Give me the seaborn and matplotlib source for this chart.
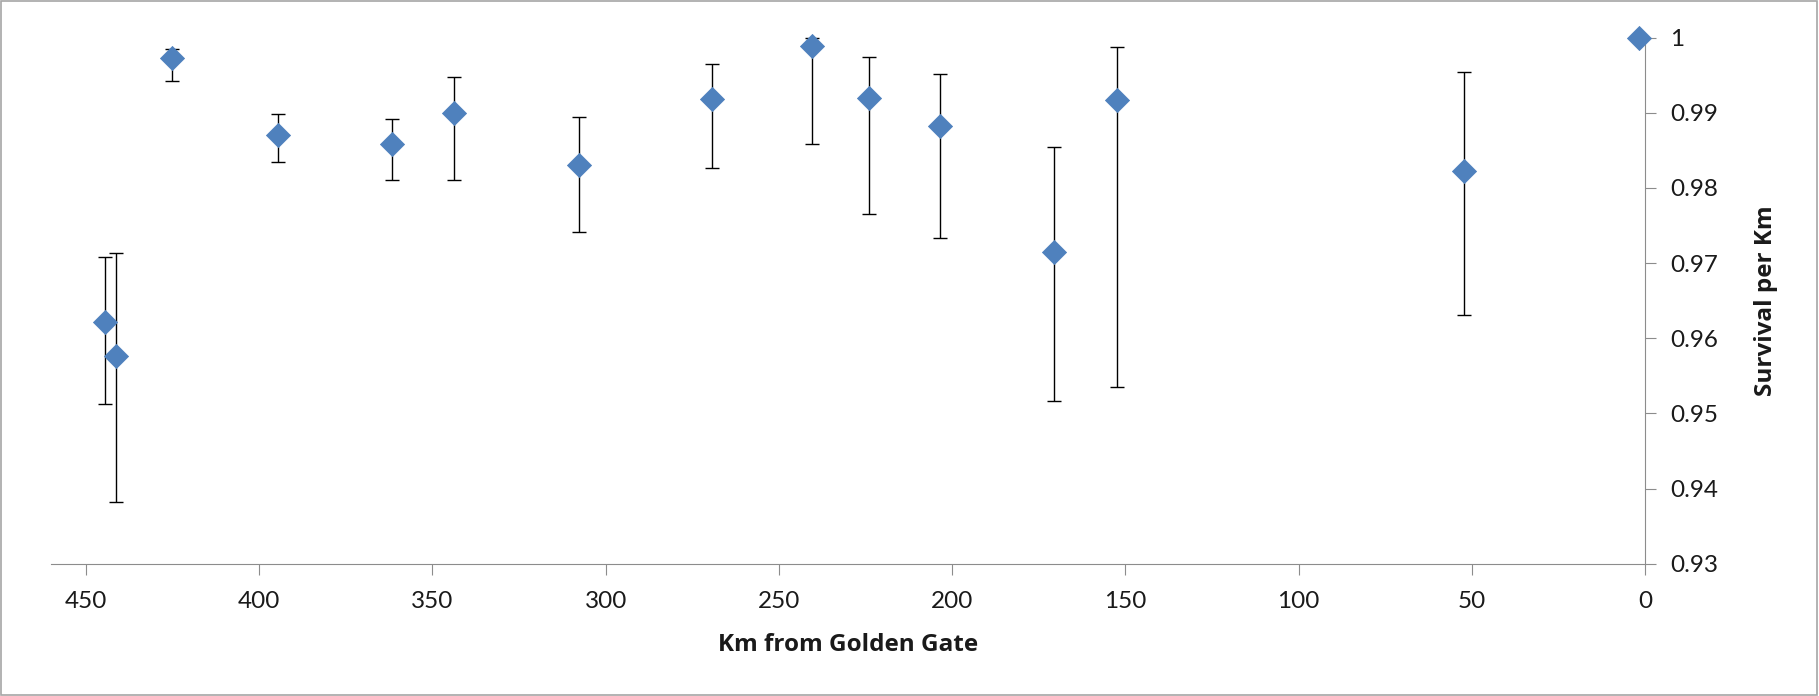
import matplotlib
matplotlib.use('Agg')
import matplotlib.pyplot as plt
from matplotlib.patches import Rectangle
from matplotlib.ticker import FuncFormatter
import seaborn as sns
import pandas as pd
import numpy as np

# Data
km_from_golden_gate = [444.5, 441.4, 425.1, 394.6, 361.6, 343.8, 307.7, 269.3,
                       240.4, 224.1, 203.5, 170.6, 152.3, 52.1, 1.8]
survival_per_km = [0.9622, 0.9577, 0.9973, 0.9871, 0.9858, 0.9900, 0.9831, 0.9918,
                   0.9989, 0.9920, 0.9882, 0.9715, 0.9917, 0.9823, 1.0000]
upper_ci = [0.9708, 0.9713, 0.9985, 0.9899, 0.9892, 0.9948, 0.9894, 0.9965,
            1.0000, 0.9974, 0.9952, 0.9855, 0.9988, 0.9954, 1.0000]
lower_ci = [0.9512, 0.9382, 0.9943, 0.9835, 0.9811, 0.9811, 0.9742, 0.9826,
            0.9859, 0.9766, 0.9733, 0.9517, 0.9535, 0.9631, 1.0000]
x_ticks = [450, 400, 350, 300, 250, 200, 150, 100, 50, 0]
y_ticks = [0.93, 0.94, 0.95, 0.96, 0.97, 0.98, 0.99, 1.00]

df = pd.DataFrame({"km": km_from_golden_gate, "surv": survival_per_km,
                   "hi": upper_ci, "lo": lower_ci})

sns.set_theme(style="white")
plt.rcParams['font.family'] = ['Lato', 'DejaVu Sans']

W, H = 1819, 696
fig = plt.figure(figsize=(W / 100, H / 100), dpi=100)
left, right, top, bottom = 51.3, 1645, 37.7, 563.7
ax = fig.add_axes([left / W, 1 - bottom / H, (right - left) / W, (bottom - top) / H])

ax.errorbar(df["km"], df["surv"],
            yerr=[df["surv"] - df["lo"], df["hi"] - df["surv"]],
            fmt='none', ecolor='black', elinewidth=1.0, capsize=4.8,
            capthick=1.0, zorder=2, clip_on=False)
sns.scatterplot(data=df, x="km", y="surv", marker="D", s=150,
                color="#4F81BD", edgecolor="#4F81BD", linewidth=0.6,
                zorder=3, clip_on=False, ax=ax, legend=False)

ax.set_xlim(460, 0)
ax.set_ylim(0.93, 1.0)
ax.set_xticks(x_ticks)
ax.set_yticks(y_ticks)
ax.yaxis.set_major_formatter(FuncFormatter(lambda v, p: ('%g' % round(v, 2))))
ax.yaxis.tick_right()
ax.yaxis.set_label_position('right')

for s in ['left', 'top']:
    ax.spines[s].set_visible(False)
for s in ['right', 'bottom']:
    ax.spines[s].set_visible(True)
    ax.spines[s].set_color('#8c8c8c')
    ax.spines[s].set_linewidth(0.8)

ax.tick_params(axis='both', direction='out', length=8, width=0.8,
               color='#8c8c8c', labelsize=17.5, labelcolor='#1a1a1a')
ax.tick_params(axis='x', bottom=True, pad=12)
ax.tick_params(axis='y', left=False, right=True, pad=10)

label_font = ['Open Sans', 'DejaVu Sans']
ax.set_xlabel('Km from Golden Gate', fontsize=17.5, fontweight='bold',
              family=label_font, color='#1a1a1a', labelpad=15)
ax.set_ylabel('Survival per Km', fontsize=17.5, fontweight='bold',
              family=label_font, color='#1a1a1a', labelpad=26, rotation=90)

fig.add_artist(Rectangle((0.5 / W, 1.0 / H), 1816 / W, 694 / H,
                         transform=fig.transFigure, fill=False,
                         edgecolor='#a6a6a6', linewidth=1.2))

fig.savefig('out.png', dpi=100)
